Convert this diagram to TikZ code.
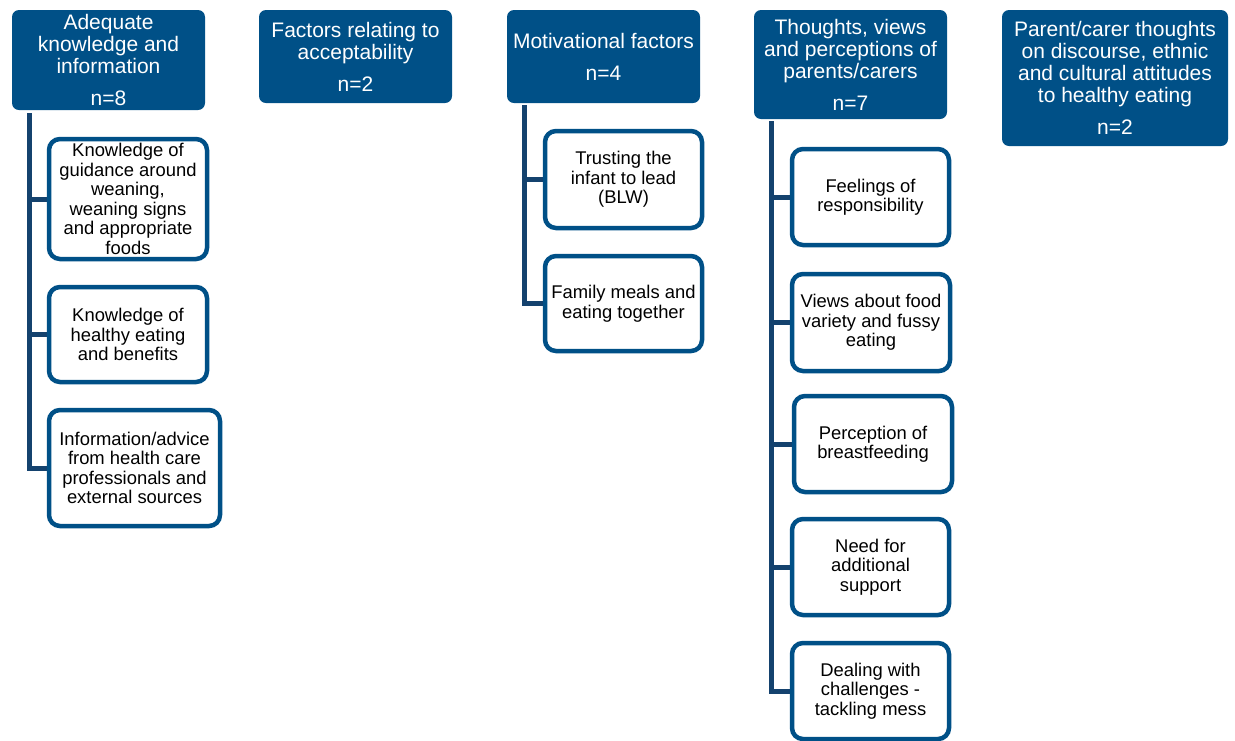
\documentclass[tikz,border=0pt]{standalone}
\usepackage{fontspec}
\setmainfont{Liberation Sans}
\usetikzlibrary{backgrounds}
\definecolor{hdr}{RGB}{0,80,135}
\definecolor{trunk}{RGB}{20,66,110}
\begin{document}
\begin{tikzpicture}[x=1pt,y=-1pt,
  header/.style={fill=hdr, text=white, rounded corners=7pt, align=center,
    inner sep=0pt, font=\fontsize{21}{22}\selectfont},
  leaf/.style={draw=hdr, line width=4.5pt, fill=white, rounded corners=11pt,
    align=center, inner sep=0pt, text=black, font=\fontsize{18.4}{19.5}\selectfont},
  link/.style={draw=trunk, line width=5pt}]
\useasboundingbox (0,0) rectangle (1235,740);

% theme headers
\node[header, minimum width=193, minimum height=100] (h1) at (108.5,60)
  {Adequate\\knowledge and\\information\\[10pt]n=8};
\node[header, minimum width=193, minimum height=93] (h2) at (355.5,56.5)
  {Factors relating to\\acceptability\\[10pt]n=2};
\node[header, minimum width=193, minimum height=93] (h3) at (603.5,56.5)
  {Motivational factors\\[10pt]n=4};
\node[header, minimum width=193, minimum height=109] (h4) at (850.5,64.5)
  {Thoughts, views\\and perceptions of\\parents/carers\\[10pt]n=7};
\node[header, minimum width=226, minimum height=136] (h5) at (1115,78)
  {Parent/carer thoughts\\on discourse, ethnic\\and cultural attitudes\\to healthy eating\\[10pt]n=2};

% sub-themes: knowledge
\node[leaf, minimum width=158, minimum height=120] (a1) at (128,199)
  {Knowledge of\\guidance around\\weaning,\\weaning signs\\and appropriate\\foods};
\node[leaf, minimum width=158, minimum height=95] (a2) at (128,334.5)
  {Knowledge of\\healthy eating\\and benefits};
\node[leaf, minimum width=171, minimum height=116] (a3) at (134.5,468)
  {Information/advice\\from health care\\professionals and\\external sources};

% sub-themes: motivation
\node[leaf, minimum width=157, minimum height=97] (m1) at (623.5,179.5)
  {Trusting the\\infant to lead\\(BLW)};
\node[leaf, minimum width=157, minimum height=95] (m2) at (623.5,303.5)
  {Family meals and\\eating together};

% sub-themes: parents/carers
\node[leaf, minimum width=157, minimum height=96] (p1) at (870.5,197)
  {Feelings of\\responsibility};
\node[leaf, minimum width=158, minimum height=97] (p2) at (871,322.5)
  {Views about food\\variety and fussy\\eating};
\node[leaf, minimum width=158, minimum height=96] (p3) at (873,444)
  {Perception of\\breastfeeding};
\node[leaf, minimum width=157, minimum height=96] (p4) at (870.5,567)
  {Need for\\additional\\support};
\node[leaf, minimum width=157, minimum height=96] (p5) at (870.5,691)
  {Dealing with\\challenges -\\tackling mess};

% trunk tops just below each header
\coordinate (t1) at (29.5,113);
\coordinate (t3) at (524.5,105);
\coordinate (t4) at (771,121);

\begin{scope}[on background layer]
  \draw[link] (t1) |- (a1.west);
  \draw[link] (t1) |- (a2.west);
  \draw[link] (t1) |- (a3.west);
  \draw[link] (t3) |- (m1.west);
  \draw[link] (t3) |- (m2.west);
  \draw[link] (t4) |- (p1.west);
  \draw[link] (t4) |- (p2.west);
  \draw[link] (t4) |- (p3.west);
  \draw[link] (t4) |- (p4.west);
  \draw[link] (t4) |- (p5.west);
\end{scope}
\end{tikzpicture}
\end{document}
